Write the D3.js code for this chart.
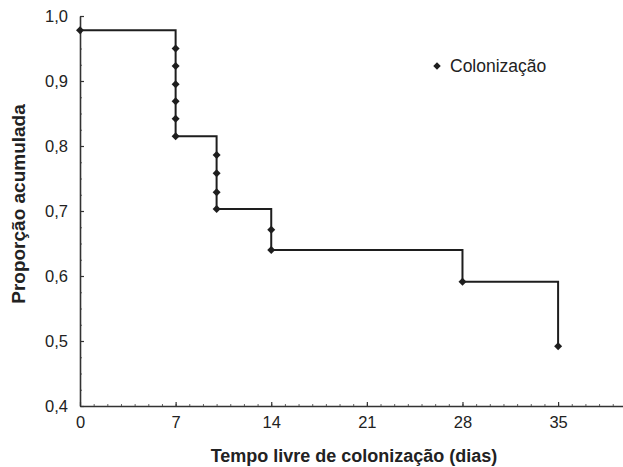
<!DOCTYPE html>
<html>
<head>
<meta charset="utf-8">
<script src="https://cdn.jsdelivr.net/npm/d3@7"></script>
<style>
	body { margin: 0; background: #fff; }
	svg { display: block; font-family: "Liberation Sans", Arial, sans-serif; }
</style>
</head>
<body>
<svg id="chart" width="623" height="467"></svg>
<script>
// survival estimate (days, accumulated proportion)
const days = [0, 7, 7, 7, 7, 7, 7, 10, 10, 10, 10, 14, 14, 28, 35];
const proportion = [0.978, 0.950, 0.923, 0.895, 0.869, 0.842, 0.815, 0.786, 0.758, 0.729, 0.703, 0.671, 0.640, 0.591, 0.492];
const xTicks = [0, 7, 14, 21, 28, 35];
const yTicks = [0.4, 0.5, 0.6, 0.7, 0.8, 0.9, 1.0];
const seriesName = 'Colonização';

const svg = d3.select('#chart');
const margin = { left: 80, top: 16, right: 0, bottom: 61 };
const height = 467;

const x = d3.scaleLinear()
	.domain([0, 40])
	.range([margin.left, margin.left + 40 * 13.66]);
const y = d3.scaleLinear()
	.domain([0.4, 1.0])
	.range([height - margin.bottom, margin.top]);

const comma = d => d3.format('.1f')(d).replace('.', ',');

//-- axes --//
const axisColor = '#333';

// minor ticks (inside)
svg.append('g')
	.attr('transform', 'translate(' + margin.left + ',0)')
	.call(d3.axisRight(y).tickValues(d3.range(0.4, 1.0001, 0.025)).tickSize(2).tickFormat(''))
	.call(g => g.select('.domain').remove())
	.call(g => g.selectAll('line').attr('stroke', '#666'));
svg.append('g')
	.attr('transform', 'translate(0,' + y(0.4) + ')')
	.call(d3.axisTop(x).tickValues(d3.range(0, 41, 1)).tickSize(2).tickFormat(''))
	.call(g => g.select('.domain').remove())
	.call(g => g.selectAll('line').attr('stroke', '#666'));

// major ticks
const yAxis = svg.append('g')
	.attr('transform', 'translate(' + margin.left + ',0)')
	.call(d3.axisRight(y).tickValues(yTicks).tickSize(4).tickFormat(comma).tickSizeOuter(0));
yAxis.select('.domain').attr('stroke', axisColor).attr('stroke-width', 1.6);
yAxis.selectAll('line').attr('stroke', axisColor).attr('stroke-width', 1.2);
yAxis.selectAll('text')
	.attr('x', -12)
	.attr('dy', '0.36em')
	.attr('text-anchor', 'end')
	.attr('fill', '#222')
	.style('font-size', '16.5px');

const xAxis = svg.append('g')
	.attr('transform', 'translate(0,' + y(0.4) + ')')
	.call(d3.axisTop(x).tickValues(xTicks).tickSize(4).tickFormat(d => d).tickSizeOuter(0));
xAxis.select('.domain').attr('stroke', axisColor).attr('stroke-width', 1.6);
xAxis.selectAll('line').attr('stroke', axisColor).attr('stroke-width', 1.2);
xAxis.selectAll('text')
	.attr('y', 22)
	.attr('dy', 0)
	.attr('fill', '#222')
	.style('font-size', '16.5px');

//-- titles --//
svg.append('text')
	.attr('x', 354)
	.attr('y', 462)
	.attr('text-anchor', 'middle')
	.attr('font-weight', 'bold')
	.attr('fill', '#222')
	.style('font-size', '18px')
	.text('Tempo livre de colonização (dias)');

svg.append('text')
	.attr('transform', 'translate(25,204) rotate(-90)')
	.attr('text-anchor', 'middle')
	.attr('font-weight', 'bold')
	.attr('fill', '#222')
	.style('font-size', '19px')
	.text('Proporção acumulada');

//-- series --//
const points = days.map((d, i) => ({ t: d, s: proportion[i] }));

const line = d3.line()
	.x(d => x(d.t))
	.y(d => y(d.s))
	.curve(d3.curveStepAfter);

svg.append('path')
	.attr('d', line(points))
	.attr('fill', 'none')
	.attr('stroke', '#1e1e1e')
	.attr('stroke-width', 2);

// square turned 45 degrees, as in the original marker
const diamond = d3.symbol().type(d3.symbolSquare).size(32);

svg.append('g')
	.selectAll('path')
	.data(points)
	.join('path')
	.attr('transform', d => 'translate(' + x(d.t) + ',' + y(d.s) + ') rotate(45)')
	.attr('d', diamond)
	.attr('fill', '#1e1e1e');

//-- legend --//
const legend = svg.append('g').attr('transform', 'translate(437,66)');
legend.append('path')
	.attr('transform', 'rotate(45)')
	.attr('d', d3.symbol().type(d3.symbolSquare).size(28))
	.attr('fill', '#1e1e1e');
legend.append('text')
	.attr('x', 13)
	.attr('y', 6)
	.attr('fill', '#222')
	.style('font-size', '17.5px')
	.text(seriesName);
</script>
</body>
</html>
